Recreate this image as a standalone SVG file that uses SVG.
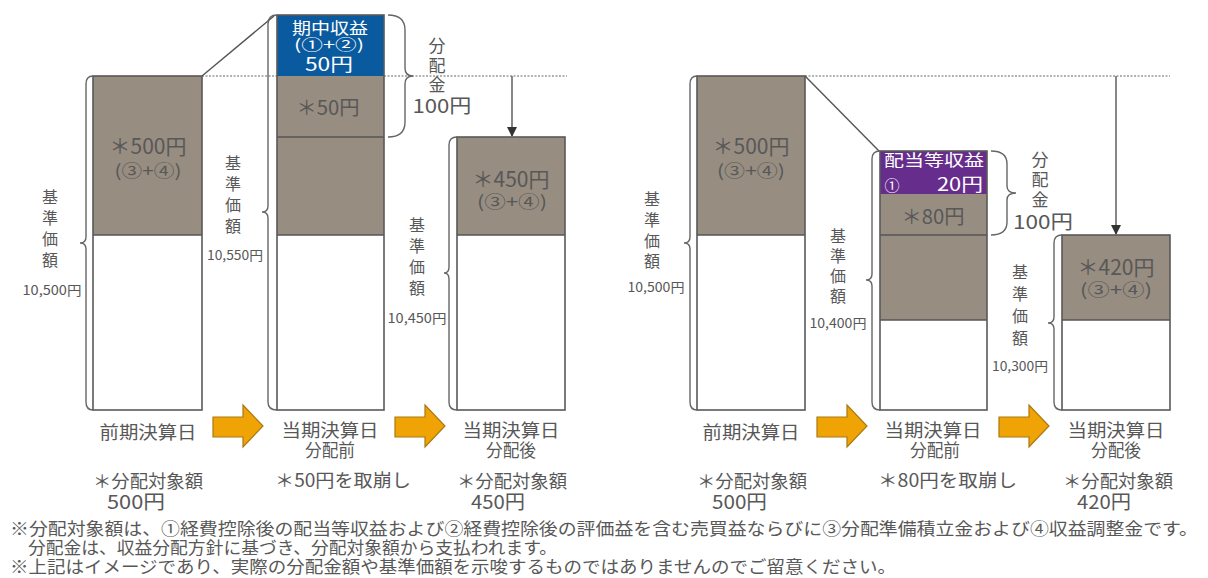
<svg xmlns="http://www.w3.org/2000/svg" width="1208" height="578" viewBox="0 0 1208 578">
<style>
text{font-family:"Noto Sans CJK JP","Noto Sans",sans-serif;fill:#585858}
.c{text-anchor:middle}
.w{fill:#fff}
.g{fill:#978d81}
.wb{fill:#fff}
.ol{fill:none;stroke:#595959;stroke-width:1.6}
.sep{stroke:#555;stroke-width:1.6}
.br{fill:none;stroke:#666;stroke-width:1.4}
.dot{stroke:#9a9a9a;stroke-width:1.6;stroke-dasharray:2 1.5}
.ln{stroke:#555;stroke-width:1.4;fill:none}
.oa{fill:#f0a305;stroke:#a87a12;stroke-width:1.2}
.v{font-size:16px}
.n{font-size:13px}
.lb{font-size:18px}
.big{font-size:21px}
.par{font-size:17px}
</style>
<defs>
<marker id="ah" markerWidth="10" markerHeight="10" refX="9" refY="5" orient="auto" markerUnits="userSpaceOnUse">
<path d="M0,0 L10,5 L0,10 Z" fill="#333"/>
</marker>
<path id="oarrow" d="M0,12 H30 V0 L50,21 L30,42 V32 H0 Z"/>
</defs>

<g id="connectors">
<line class="dot" x1="202" y1="76" x2="277" y2="76"/>
<line class="dot" x1="384" y1="76" x2="567" y2="76"/>
<line class="dot" x1="805" y1="76" x2="1170" y2="76"/>
<line class="ln" x1="202" y1="76" x2="274" y2="16"/>
<line class="ln" x1="805" y1="76" x2="879" y2="151"/>
<line class="ln" x1="512" y1="76" x2="512" y2="136" marker-end="url(#ah)"/>
<line class="ln" x1="1116" y1="76" x2="1116" y2="234" marker-end="url(#ah)"/>
<use href="#oarrow" class="oa" x="213" y="405"/>
<use href="#oarrow" class="oa" x="395" y="405"/>
<use href="#oarrow" class="oa" x="817" y="405"/>
<use href="#oarrow" class="oa" x="999" y="405"/>
</g>

<!-- LEFT PANEL -->
<g id="l-bar1">
<rect class="g" x="93" y="76" width="109" height="159"/>
<rect class="wb" x="93" y="235" width="109" height="175"/>
<line class="sep" x1="93" y1="235" x2="202" y2="235"/>
<rect class="ol" x="93" y="76" width="109" height="334"/>
<text class="c big" x="148" y="154" textLength="77" lengthAdjust="spacingAndGlyphs">＊500円</text>
<text class="c par" x="148" y="177" textLength="67" lengthAdjust="spacingAndGlyphs">(③+④)</text>
<path class="br" d="M93,76 Q86,76 86,84 L86,237 Q86,243 80,243 Q86,243 86,249 L86,402 Q86,410 93,410"/>
<text class="c v" x="50" y="203">基</text>
<text class="c v" x="50" y="224">準</text>
<text class="c v" x="50" y="245">価</text>
<text class="c v" x="50" y="266">額</text>
<text class="c n" x="52" y="295" textLength="59" lengthAdjust="spacingAndGlyphs">10,500円</text>
<text class="c lb" x="148" y="439" textLength="97" lengthAdjust="spacingAndGlyphs">前期決算日</text>
<text class="lb" x="93" y="488" textLength="110" lengthAdjust="spacingAndGlyphs">＊分配対象額</text>
<text x="107" y="509" font-size="19" textLength="58" lengthAdjust="spacingAndGlyphs">500円</text>
</g>

<g id="l-bar2">
<rect fill="#0a5aa0" x="277" y="15" width="107" height="61"/>
<rect class="g" x="277" y="76" width="107" height="159"/>
<rect class="wb" x="277" y="235" width="107" height="175"/>
<line class="sep" x1="277" y1="137" x2="384" y2="137"/>
<line class="sep" x1="277" y1="235" x2="384" y2="235"/>
<rect class="ol" x="277" y="15" width="107" height="395"/>
<text class="c w" x="330" y="34" font-size="16" textLength="76" lengthAdjust="spacingAndGlyphs">期中収益</text>
<text class="c w" x="329" y="50" font-size="15" textLength="70" lengthAdjust="spacingAndGlyphs">(①+②)</text>
<text class="c w" x="329" y="71" font-size="18" textLength="48" lengthAdjust="spacingAndGlyphs">50円</text>
<text class="c" x="328" y="115" font-size="20" textLength="63" lengthAdjust="spacingAndGlyphs">＊50円</text>
<path class="br" d="M277,15 Q268,15 268,24 L268,206 Q268,212 262,212 Q268,212 268,218 L268,402 Q268,410 277,410"/>
<text class="c v" x="233" y="169">基</text>
<text class="c v" x="233" y="190">準</text>
<text class="c v" x="233" y="211">価</text>
<text class="c v" x="233" y="232">額</text>
<text class="c n" x="235" y="260" textLength="56" lengthAdjust="spacingAndGlyphs">10,550円</text>
<path class="br" d="M388,15 Q405,15 405,30 L405,68 Q405,76 413,76 Q405,76 405,84 L405,122 Q405,137 388,137"/>
<text class="c" x="437" y="52" font-size="17">分</text>
<text class="c" x="437" y="72" font-size="17">配</text>
<text class="c" x="437" y="91" font-size="17">金</text>
<text class="c" x="442" y="113" font-size="19" textLength="59" lengthAdjust="spacingAndGlyphs">100円</text>
<text class="c lb" x="330" y="437" textLength="97" lengthAdjust="spacingAndGlyphs">当期決算日</text>
<text class="c lb" x="330" y="457" textLength="50" lengthAdjust="spacingAndGlyphs">分配前</text>
<text class="lb" x="275" y="487" textLength="136" lengthAdjust="spacingAndGlyphs">＊50円を取崩し</text>
</g>

<g id="l-bar3">
<rect class="g" x="457" y="137" width="108" height="98"/>
<rect class="wb" x="457" y="235" width="108" height="175"/>
<line class="sep" x1="457" y1="235" x2="565" y2="235"/>
<rect class="ol" x="457" y="137" width="108" height="273"/>
<text class="c big" x="511" y="187" textLength="77" lengthAdjust="spacingAndGlyphs">＊450円</text>
<text class="c par" x="512" y="208" textLength="70" lengthAdjust="spacingAndGlyphs">(③+④)</text>
<path class="br" d="M457,137 Q449,137 449,145 L449,267 Q449,273 444,273 Q449,273 449,279 L449,402 Q449,410 457,410"/>
<text class="c v" x="417" y="231">基</text>
<text class="c v" x="417" y="252">準</text>
<text class="c v" x="417" y="273">価</text>
<text class="c v" x="417" y="294">額</text>
<text class="c n" x="417" y="323" textLength="59" lengthAdjust="spacingAndGlyphs">10,450円</text>
<text class="c lb" x="511" y="437" textLength="97" lengthAdjust="spacingAndGlyphs">当期決算日</text>
<text class="c lb" x="511" y="457" textLength="50" lengthAdjust="spacingAndGlyphs">分配後</text>
<text class="lb" x="457" y="488" textLength="110" lengthAdjust="spacingAndGlyphs">＊分配対象額</text>
<text x="471" y="509" font-size="19" textLength="54" lengthAdjust="spacingAndGlyphs">450円</text>
</g>

<!-- RIGHT PANEL -->
<g id="r-bar1">
<rect class="g" x="697" y="76" width="108" height="159"/>
<rect class="wb" x="697" y="235" width="108" height="175"/>
<line class="sep" x1="697" y1="235" x2="805" y2="235"/>
<rect class="ol" x="697" y="76" width="108" height="334"/>
<text class="c big" x="751" y="154" textLength="77" lengthAdjust="spacingAndGlyphs">＊500円</text>
<text class="c par" x="751" y="177" textLength="68" lengthAdjust="spacingAndGlyphs">(③+④)</text>
<path class="br" d="M697,76 Q690,76 690,84 L690,237 Q690,243 684,243 Q690,243 690,249 L690,402 Q690,410 697,410"/>
<text class="c v" x="652" y="205">基</text>
<text class="c v" x="652" y="226">準</text>
<text class="c v" x="652" y="247">価</text>
<text class="c v" x="652" y="267">額</text>
<text class="c n" x="656" y="292" textLength="57" lengthAdjust="spacingAndGlyphs">10,500円</text>
<text class="c lb" x="751" y="439" textLength="97" lengthAdjust="spacingAndGlyphs">前期決算日</text>
<text class="lb" x="697" y="488" textLength="110" lengthAdjust="spacingAndGlyphs">＊分配対象額</text>
<text x="712" y="509" font-size="19" textLength="55" lengthAdjust="spacingAndGlyphs">500円</text>
</g>

<g id="r-bar2">
<rect fill="#662d8c" x="880" y="151" width="107" height="43"/>
<rect class="g" x="880" y="194" width="107" height="126"/>
<rect class="wb" x="880" y="320" width="107" height="90"/>
<line class="sep" x1="880" y1="235" x2="987" y2="235"/>
<line class="sep" x1="880" y1="320" x2="987" y2="320"/>
<rect class="ol" x="880" y="151" width="107" height="259"/>
<text class="c w" x="934" y="166" font-size="16" textLength="100" lengthAdjust="spacingAndGlyphs">配当等収益</text>
<text class="c w" x="892" y="191" font-size="15">①</text>
<text class="c w" x="960" y="191" font-size="18" textLength="46" lengthAdjust="spacingAndGlyphs">20円</text>
<text class="c" x="933" y="224" font-size="20" textLength="63" lengthAdjust="spacingAndGlyphs">＊80円</text>
<path class="br" d="M880,151 Q872,151 872,159 L872,274 Q872,280 866,280 Q872,280 872,286 L872,402 Q872,410 880,410"/>
<text class="c v" x="838" y="242">基</text>
<text class="c v" x="838" y="262">準</text>
<text class="c v" x="838" y="282">価</text>
<text class="c v" x="838" y="302">額</text>
<text class="c n" x="838" y="328" textLength="57" lengthAdjust="spacingAndGlyphs">10,400円</text>
<path class="br" d="M991,151 Q1007,151 1007,164 L1007,186 Q1007,193 1016,193 Q1007,193 1007,200 L1007,222 Q1007,235 991,235"/>
<text class="c" x="1040" y="166" font-size="17">分</text>
<text class="c" x="1040" y="186" font-size="17">配</text>
<text class="c" x="1040" y="206" font-size="17">金</text>
<text class="c" x="1043" y="229" font-size="19" textLength="60" lengthAdjust="spacingAndGlyphs">100円</text>
<text class="c lb" x="933" y="437" textLength="97" lengthAdjust="spacingAndGlyphs">当期決算日</text>
<text class="c lb" x="935" y="457" textLength="50" lengthAdjust="spacingAndGlyphs">分配前</text>
<text class="lb" x="878" y="487" textLength="139" lengthAdjust="spacingAndGlyphs">＊80円を取崩し</text>
</g>

<g id="r-bar3">
<rect class="g" x="1062" y="235" width="108" height="85"/>
<rect class="wb" x="1062" y="320" width="108" height="90"/>
<line class="sep" x1="1062" y1="320" x2="1170" y2="320"/>
<rect class="ol" x="1062" y="235" width="108" height="175"/>
<text class="c big" x="1116" y="275" textLength="77" lengthAdjust="spacingAndGlyphs">＊420円</text>
<text class="c par" x="1116" y="296" textLength="72" lengthAdjust="spacingAndGlyphs">(③+④)</text>
<path class="br" d="M1062,235 Q1054,235 1054,243 L1054,317 Q1054,323 1048,323 Q1054,323 1054,329 L1054,402 Q1054,410 1062,410"/>
<text class="c v" x="1020" y="278">基</text>
<text class="c v" x="1020" y="300">準</text>
<text class="c v" x="1020" y="322">価</text>
<text class="c v" x="1020" y="344">額</text>
<text class="c n" x="1020" y="371" textLength="56" lengthAdjust="spacingAndGlyphs">10,300円</text>
<text class="c lb" x="1116" y="437" textLength="97" lengthAdjust="spacingAndGlyphs">当期決算日</text>
<text class="c lb" x="1116" y="457" textLength="50" lengthAdjust="spacingAndGlyphs">分配後</text>
<text class="lb" x="1063" y="488" textLength="110" lengthAdjust="spacingAndGlyphs">＊分配対象額</text>
<text x="1077" y="509" font-size="19" textLength="54" lengthAdjust="spacingAndGlyphs">420円</text>
</g>

<g id="notes">
<text x="10" y="535" font-size="17" textLength="1188" lengthAdjust="spacingAndGlyphs">※分配対象額は、①経費控除後の配当等収益および②経費控除後の評価益を含む売買益ならびに③分配準備積立金および④収益調整金です。</text>
<text x="28" y="554" font-size="17" textLength="529" lengthAdjust="spacingAndGlyphs">分配金は、収益分配方針に基づき、分配対象額から支払われます。</text>
<text x="10" y="573" font-size="17" textLength="886" lengthAdjust="spacingAndGlyphs">※上記はイメージであり、実際の分配金額や基準価額を示唆するものではありませんのでご留意ください。</text>
</g>
</svg>
